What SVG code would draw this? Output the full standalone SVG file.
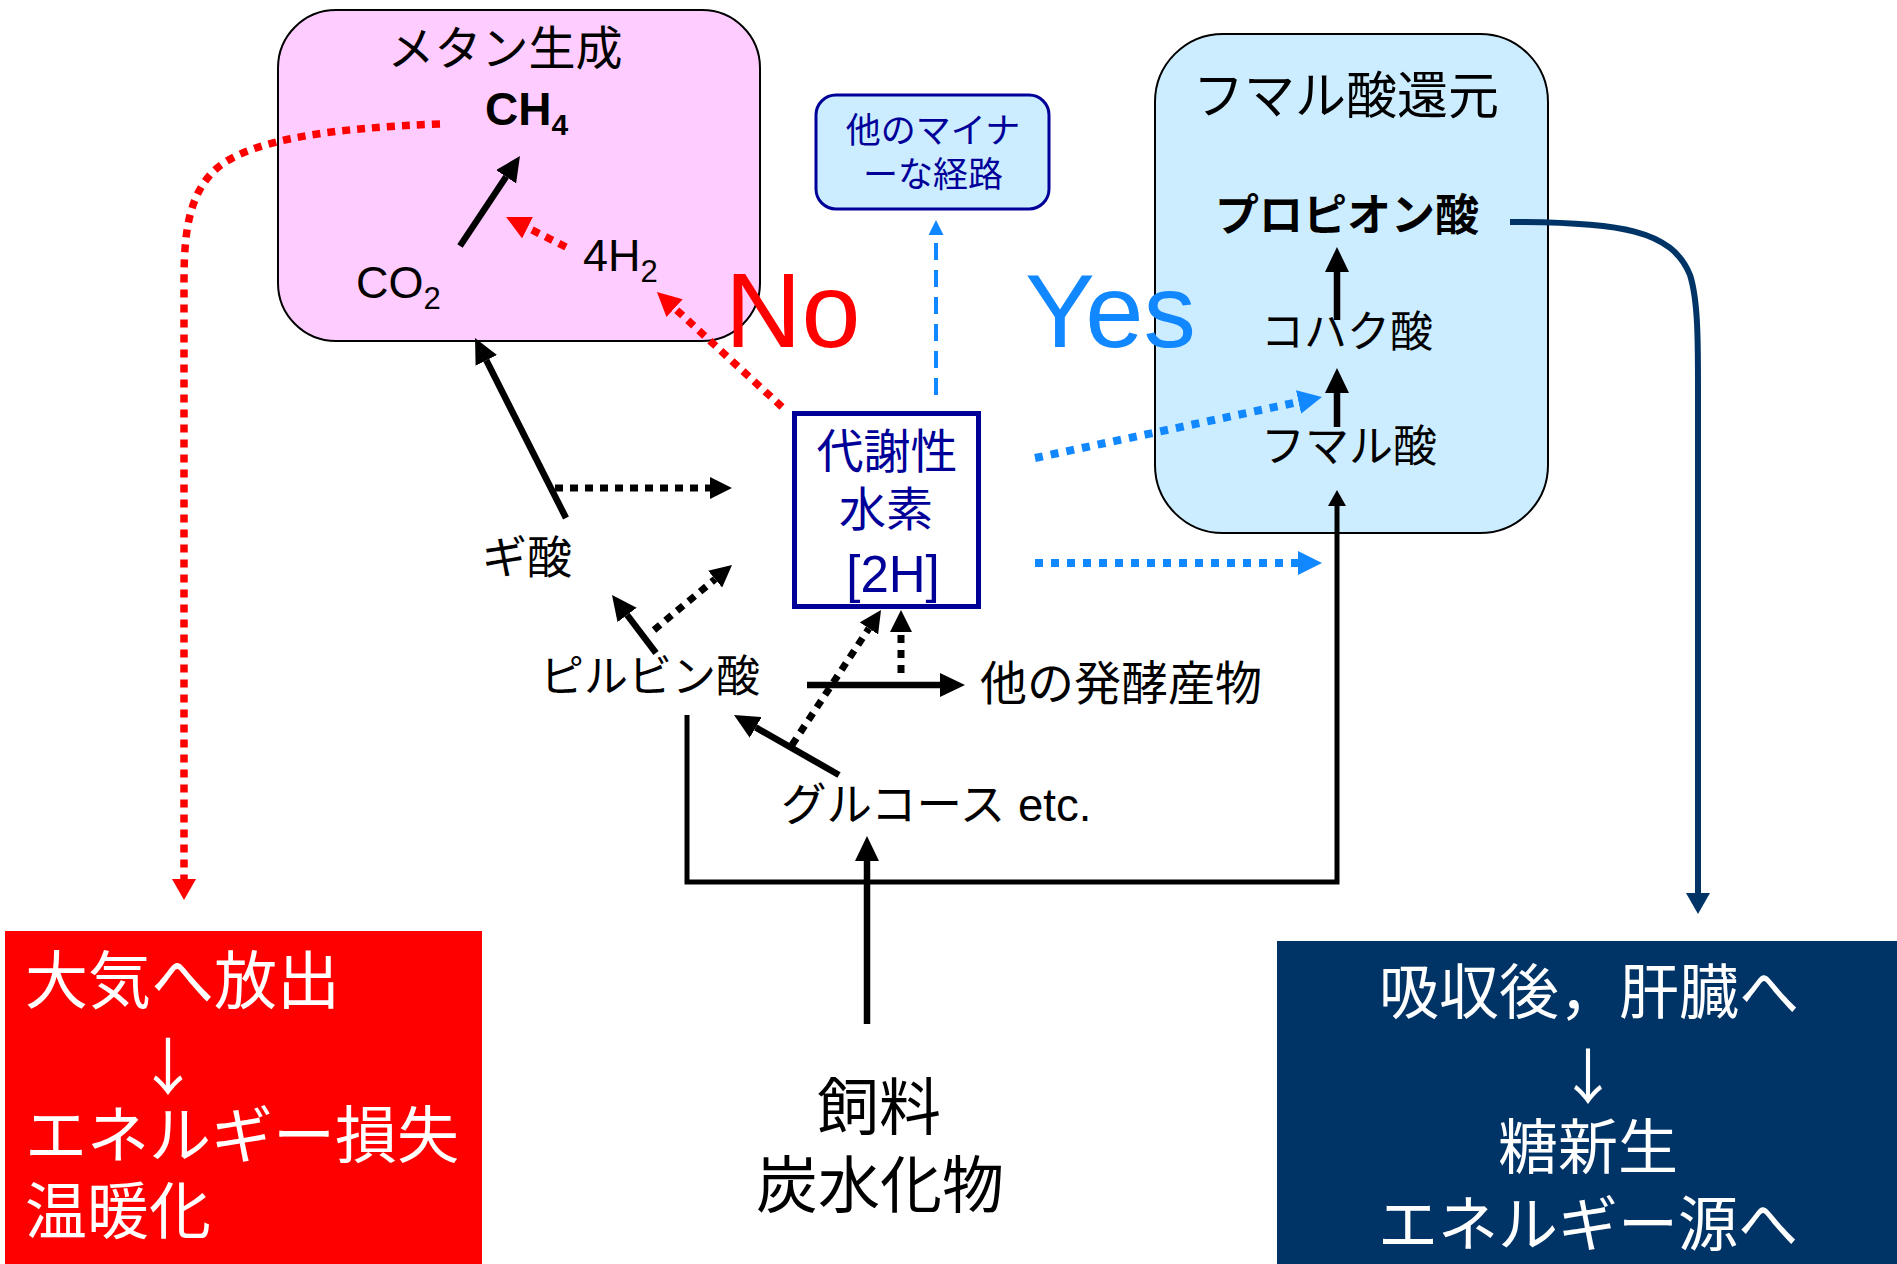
<svg xmlns="http://www.w3.org/2000/svg" width="1897" height="1264" viewBox="0 0 1897 1264">
<style>
.t{font-family:"Liberation Sans","Noto Sans CJK JP",sans-serif;fill:#000}
.jp{font-family:"Noto Sans CJK JP","Liberation Sans",sans-serif}
.w{fill:#fff}
.nv{fill:#000099}
.solid{fill:none;stroke:#000;stroke-width:6.5}
.thin{fill:none;stroke:#000;stroke-width:5}
.dotk{fill:none;stroke:#000;stroke-width:7;stroke-dasharray:8 7}
.dotr{fill:none;stroke:#f00;stroke-width:7.5;stroke-dasharray:8 7}
.dotb{fill:none;stroke:#1188ff;stroke-width:8;stroke-dasharray:8 8}
.dashb{fill:none;stroke:#1188ff;stroke-width:4;stroke-dasharray:17 10}
.navy{fill:none;stroke:#003366;stroke-width:6}
</style>
<defs>
<marker id="mk" viewBox="0 -12 25 24" markerWidth="25" markerHeight="24" refX="0" refY="0" orient="auto" markerUnits="userSpaceOnUse"><path d="M0,-12L25,0L0,12Z" fill="#000"/></marker>
<marker id="mks" viewBox="0 -11 22 22" markerWidth="22" markerHeight="22" refX="0" refY="0" orient="auto" markerUnits="userSpaceOnUse"><path d="M0,-11L22,0L0,11Z" fill="#000"/></marker>
<marker id="mkt" viewBox="0 -9 16 18" markerWidth="16" markerHeight="18" refX="0" refY="0" orient="auto" markerUnits="userSpaceOnUse"><path d="M0,-9L16,0L0,9Z" fill="#000"/></marker>
<marker id="mr" viewBox="0 -12 24 24" markerWidth="24" markerHeight="24" refX="0" refY="0" orient="auto" markerUnits="userSpaceOnUse"><path d="M0,-12L24,0L0,12Z" fill="#f00"/></marker>
<marker id="mrv" viewBox="0 -12 21 24" markerWidth="21" markerHeight="24" refX="0" refY="0" orient="auto" markerUnits="userSpaceOnUse"><path d="M0,-12L21,0L0,12Z" fill="#f00"/></marker>
<marker id="mb" viewBox="0 -12 24 24" markerWidth="24" markerHeight="24" refX="0" refY="0" orient="auto" markerUnits="userSpaceOnUse"><path d="M0,-12L24,0L0,12Z" fill="#1188ff"/></marker>
<marker id="mbt" viewBox="0 -7.5 15 15" markerWidth="15" markerHeight="15" refX="0" refY="0" orient="auto" markerUnits="userSpaceOnUse"><path d="M0,-7.5L15,0L0,7.5Z" fill="#1188ff"/></marker>
<marker id="mn" viewBox="0 -12 21 24" markerWidth="21" markerHeight="24" refX="0" refY="0" orient="auto" markerUnits="userSpaceOnUse"><path d="M0,-12L21,0L0,12Z" fill="#003366"/></marker>
</defs>
<rect width="1897" height="1264" fill="#fff"/>

<g id="methane">
<rect x="278" y="10" width="482" height="331" rx="58" fill="#ffccff" stroke="#000" stroke-width="2"/>
<text class="t jp" x="505" y="65" font-size="47" text-anchor="middle">メタン生成</text>
<text class="t" x="485" y="125" font-size="46" font-weight="bold">CH<tspan font-size="30" dy="10">4</tspan></text>
<text class="t" x="356" y="298" font-size="45">CO<tspan font-size="31" dy="11">2</tspan></text>
<text class="t" x="583" y="271" font-size="45">4H<tspan font-size="31" dy="11">2</tspan></text>
</g>

<g id="fumarate">
<rect x="1155" y="34" width="393" height="499" rx="68" fill="#ccecff" stroke="#000" stroke-width="2"/>
<text class="t jp" x="1346" y="114" font-size="51" text-anchor="middle">フマル酸還元</text>
<text class="t jp" x="1347" y="231" font-size="44" font-weight="bold" text-anchor="middle">プロピオン酸</text>
<text class="t jp" x="1347" y="347" font-size="43" text-anchor="middle">コハク酸</text>
<text class="t jp" x="1349" y="462" font-size="44" text-anchor="middle">フマル酸</text>
</g>

<g id="minor">
<rect x="816" y="95" width="233" height="114" rx="20" fill="#ccecff" stroke="#000099" stroke-width="3"/>
<text class="t jp nv" x="933" y="143" font-size="35" text-anchor="middle">他のマイナ</text>
<text class="t jp nv" x="933" y="187" font-size="35" text-anchor="middle">ーな経路</text>
</g>

<g id="hydrogen">
<rect x="794.5" y="413.5" width="184" height="193" fill="#fff" stroke="#000099" stroke-width="5"/>
<text class="t jp nv" x="887" y="468" font-size="47" text-anchor="middle">代謝性</text>
<text class="t jp nv" x="886" y="526" font-size="47" text-anchor="middle">水素</text>
<text class="t nv" x="893" y="592" font-size="51" text-anchor="middle">[2H]</text>
</g>

<g id="formate"><text class="t jp" x="527" y="574" font-size="45" text-anchor="middle">ギ酸</text></g>
<g id="pyruvate"><text class="t jp" x="650" y="692" font-size="44" text-anchor="middle">ピルビン酸</text></g>
<g id="otherferm"><text class="t jp" x="1121" y="700" font-size="47" text-anchor="middle">他の発酵産物</text></g>
<g id="glucose"><text class="t" x="781" y="821" font-size="45.5">グルコース etc.</text></g>
<g id="feed">
<text class="t jp" x="879" y="1130" font-size="62" text-anchor="middle">飼料</text>
<text class="t jp" x="880" y="1208" font-size="62" text-anchor="middle">炭水化物</text>
</g>

<g id="no"><text class="t" x="725" y="347" font-size="106" style="fill:#ff0000">No</text></g>
<g id="yes"><text class="t" x="1025" y="347" font-size="104" textLength="171" lengthAdjust="spacingAndGlyphs" style="fill:#1188ff">Yes</text></g>

<g id="connectors">
<path class="solid" d="M460,246L506.1,176.8" marker-end="url(#mk)"/>
<path class="dotr" d="M566,247L527.5,227.7" marker-end="url(#mr)"/>
<path class="dotr" d="M782,407L674.6,308.2" marker-end="url(#mr)"/>
<path class="solid" d="M566,518L486.3,360.3" marker-end="url(#mk)"/>
<path class="dotk" d="M555,488L710,488" marker-end="url(#mks)"/>
<path class="solid" d="M656,653L627.1,614.9" marker-end="url(#mk)"/>
<path class="dotk" d="M654,630L715.1,579.1" marker-end="url(#mks)"/>
<path class="solid" d="M807,685L940,685" marker-end="url(#mk)"/>
<path class="dotk" d="M901,673L901,632" marker-end="url(#mks)"/>
<path class="dotk" d="M792,745L868.9,628.4" marker-end="url(#mks)"/>
<path class="solid" d="M839,775L755.7,727.4" marker-end="url(#mk)"/>
<path class="thin" d="M687,715L687,882L1337,882L1337,506" marker-end="url(#mkt)"/>
<path class="solid" d="M867,1024L867,861" stroke-width="7" marker-end="url(#mk)"/>
<path class="solid" d="M1337,427L1337,393" stroke-width="7" marker-end="url(#mk)"/>
<path class="solid" d="M1337,320L1337,272" stroke-width="7" marker-end="url(#mk)"/>
<path class="dotb" d="M1035,458L1298.5,402" marker-end="url(#mb)"/>
<path class="dotb" d="M1035,563L1298,563" marker-end="url(#mb)"/>
<path class="dashb" d="M936,395L936,235" marker-end="url(#mbt)"/>
<path class="dotr" d="M440,124C330,128 240,140 210,175C190,198 184,230 184,280L184,879" marker-end="url(#mrv)"/>
<path class="navy" d="M1510,222C1620,222 1672,230 1690,275C1698,300 1698,340 1698,390L1698,893" marker-end="url(#mn)"/>
</g>

<g id="release">
<rect x="5" y="931" width="477" height="333" fill="#ff0000"/>
<text class="t jp w" x="25" y="1003" font-size="63">大気へ放出</text>
<text class="t jp w" x="168" y="1090" font-size="62" text-anchor="middle">↓</text>
<text class="t jp w" x="25" y="1158" font-size="62">エネルギー損失</text>
<text class="t jp w" x="25" y="1234" font-size="62">温暖化</text>
</g>

<g id="liver">
<rect x="1277" y="941" width="620" height="323" fill="#003366"/>
<text class="t jp w" x="1589" y="1014" font-size="60" text-anchor="middle">吸収後，肝臓へ</text>
<text class="t jp w" x="1588" y="1099" font-size="60" text-anchor="middle">↓</text>
<text class="t jp w" x="1588" y="1169" font-size="60" text-anchor="middle">糖新生</text>
<text class="t jp w" x="1588" y="1246" font-size="60" text-anchor="middle">エネルギー源へ</text>
</g>
</svg>
